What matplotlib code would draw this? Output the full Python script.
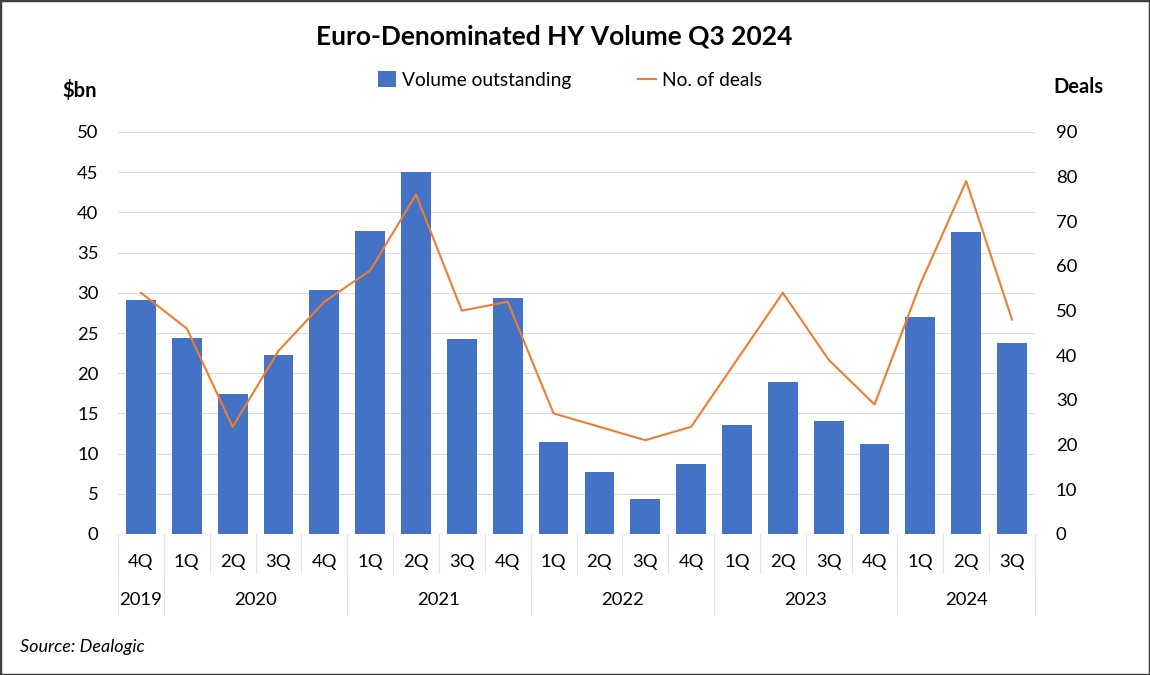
import matplotlib
matplotlib.use("Agg")
import matplotlib.pyplot as plt
from matplotlib.patches import Patch, Rectangle
from matplotlib.lines import Line2D
import matplotlib.transforms as mtransforms

# ---- data ----
quarters = ["4Q", "1Q", "2Q", "3Q", "4Q", "1Q", "2Q", "3Q", "4Q", "1Q",
            "2Q", "3Q", "4Q", "1Q", "2Q", "3Q", "4Q", "1Q", "2Q", "3Q"]
years = ["2019", "2020", "2021", "2022", "2023", "2024"]
year_counts = [1, 4, 4, 4, 4, 3]
volume = [29.1, 24.4, 17.4, 22.3, 30.3, 37.7, 45.0, 24.2, 29.3, 11.5,
          7.7, 4.4, 8.75, 13.5, 18.9, 14.1, 11.2, 27.0, 37.6, 23.7]
deals = [54, 46, 24, 41, 52, 59, 76, 50, 52, 27,
         24, 21, 24, 39, 54, 39, 29, 56, 79, 48]
left_ticks = list(range(0, 51, 5))
right_ticks = list(range(0, 91, 10))

FONT = "Lato"
plt.rcParams["font.family"] = [FONT, "DejaVu Sans"]

BLUE = "#4472C4"
ORANGE = "#ED7D31"
GRID = "#DDDDDD"
SEP = "#E3E3E3"
TXT = "#000000"

W, H = 1150, 675
fig = plt.figure(figsize=(W / 100, H / 100), dpi=100)
ax = fig.add_axes([118 / W, 1 - 534 / H, (1035 - 118) / W, (534 - 132) / H])
ax2 = ax.twinx()

x = list(range(len(quarters)))
ax.bar(x, volume, width=0.65, color=BLUE, zorder=2)
ax2.plot(x, deals, color=ORANGE, lw=1.5, zorder=3)

ax.set_xlim(-0.5, len(quarters) - 0.5)
ax.set_ylim(0, 50)
ax2.set_ylim(0, 90)
ax.set_yticks(left_ticks)
ax2.set_yticks(right_ticks)
ax.yaxis.grid(True, color=GRID, lw=0.8, zorder=0)
ax.set_axisbelow(True)
ax.set_xticks([])
for a in (ax, ax2):
    for s in a.spines.values():
        s.set_visible(False)
ax.tick_params(axis="y", length=0, pad=14, labelsize=13.3, labelcolor=TXT)
ax2.tick_params(axis="y", length=0, pad=15, labelsize=13.3, labelcolor=TXT)

# category axis (two-level)
trans = mtransforms.blended_transform_factory(ax.transData, ax.transAxes)
ph = 534 - 132
def ay(py):
    return (534 - py) / ph

for i, q in enumerate(quarters):
    ax.text(i, ay(562), q, transform=trans, ha="center", va="center",
            fontsize=13.3, color=TXT)
# quarter separators
for i in range(len(quarters) + 1):
    ax.plot([i - 0.5, i - 0.5], [0, ay(573)], transform=trans, color=SEP,
            lw=0.8, clip_on=False, zorder=1)
start = 0
bounds = [-0.5]
for yr, n in zip(years, year_counts):
    c = start + (n - 1) / 2
    ax.text(c, ay(600), yr, transform=trans, ha="center", va="center",
            fontsize=13.3, color=TXT)
    start += n
    bounds.append(start - 0.5)
for b in bounds:
    ax.plot([b, b], [0, ay(615)], transform=trans, color=SEP,
            lw=0.8, clip_on=False, zorder=1)

# titles / labels
fig.text(554 / W, 1 - 37 / H, "Euro-Denominated HY Volume Q3 2024", ha="center",
         va="center", fontsize=19, fontweight="bold", color=TXT)
fig.text(80 / W, 1 - 90 / H, "$bn", ha="center", va="center", fontsize=14.5,
         fontweight="bold", color=TXT)
fig.text(1078 / W, 1 - 87 / H, "Deals", ha="center", va="center", fontsize=14.5,
         fontweight="bold", color=TXT)
fig.text(20 / W, 1 - 647 / H, "Source: Dealogic", ha="left", va="center",
         fontsize=13, style="italic", color=TXT)

handles = [Patch(facecolor=BLUE, edgecolor="none", label="Volume outstanding"),
           Line2D([], [], color=ORANGE, lw=1.5, label="No. of deals")]
fig.legend(handles=handles, loc="center", bbox_to_anchor=(570 / W, 1 - 80 / H),
           ncol=2, frameon=False, fontsize=13.8, handlelength=0.95, handleheight=0.85,
           handletextpad=0.3, columnspacing=3.5, borderaxespad=0)

# outer border
fig.patches.append(Rectangle((0, 0), 1, 1, transform=fig.transFigure, fill=False,
                             edgecolor="#404040", lw=2.5))

fig.savefig("out.png", dpi=100)
